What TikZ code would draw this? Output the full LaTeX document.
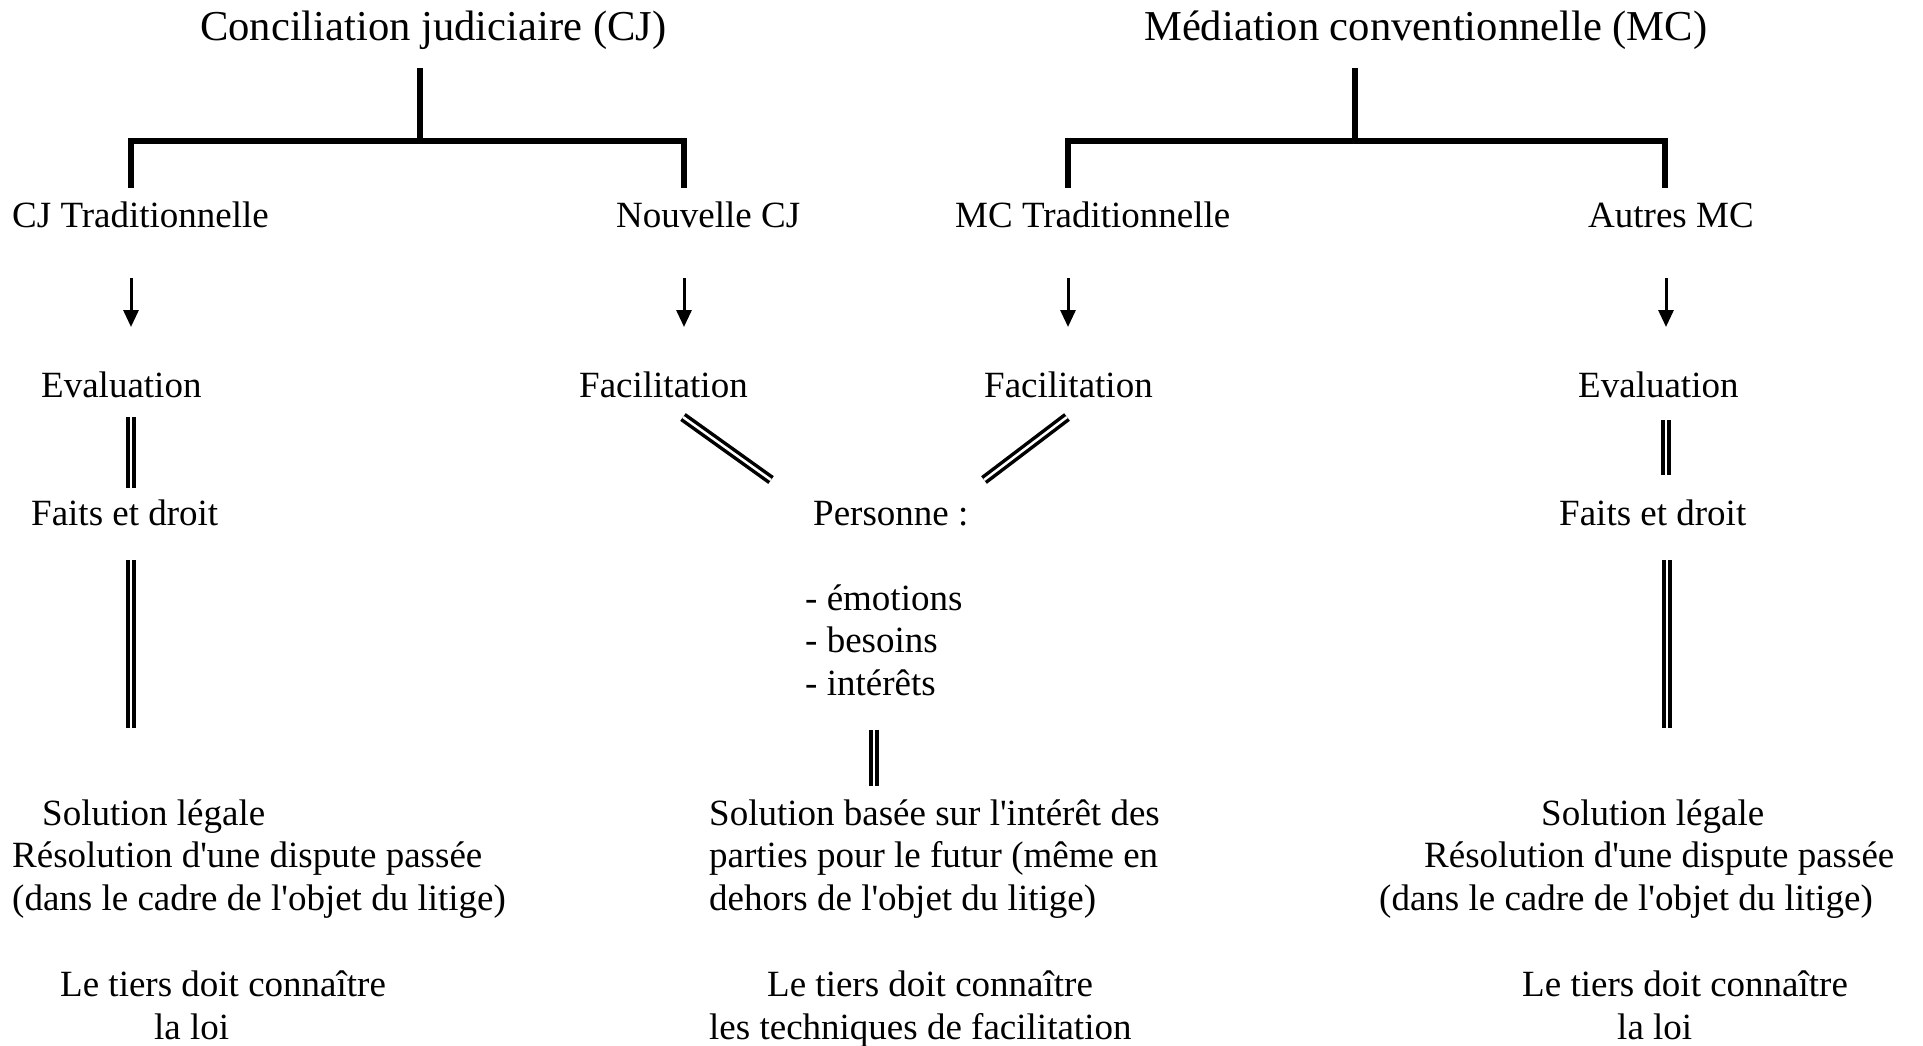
\documentclass[tikz,border=0pt]{standalone}
\usepackage{fontspec}
\setmainfont{Liberation Serif}[Ligatures=TeXOff]
\usetikzlibrary{arrows.meta}
\begin{document}
\begin{tikzpicture}[x=1pt,y=-1pt,
  txt/.style={anchor=base west,inner sep=0pt,font=\fontsize{37}{42}\selectfont},
  head/.style={anchor=base west,inner sep=0pt,font=\fontsize{42.6}{50}\selectfont},
  tree/.style={line width=6pt,line join=miter},
  down/.style={line width=3pt,-{Triangle[width=15pt,length=17pt]}},
  twin/.style={line width=3.5pt,double=white,double distance=2.5pt},
]
\useasboundingbox[fill=white] (0,0) rectangle (1923,1046);

% headings
\node[head] (cj) at (200,41) {Conciliation judiciaire (CJ)};
\node[head] (mc) at (1144,41) {Médiation conventionnelle (MC)};

% second level
\node[txt] (cjt) at (12,227) {CJ Traditionnelle};
\node[txt] (ncj) at (616,227) {Nouvelle CJ};
\node[txt] (mct) at (955,227) {MC Traditionnelle};
\node[txt] (amc) at (1588,227) {Autres MC};

% approach
\node[txt] (ev1) at (41,397) {Evaluation};
\node[txt] (fa1) at (579,397) {Facilitation};
\node[txt] (fa2) at (984,397) {Facilitation};
\node[txt] (ev2) at (1578,397) {Evaluation};

% focus
\node[txt] (fd1) at (31,525) {Faits et droit};
\node[txt] (pers) at (813,525) {Personne :};
\node[txt] (fd2) at (1559,525) {Faits et droit};

\node[txt] (em) at (805,610) {- émotions};
\node[txt] (be) at (805,652) {- besoins};
\node[txt] (in) at (805,695) {- intérêts};

% outcomes, left column
\node[txt] (sl1) at (42,825) {Solution légale};
\node[txt] (rd1) at (12,867) {Résolution d'une dispute passée};
\node[txt] (cd1) at (12,910) {(dans le cadre de l'objet du litige)};
\node[txt] (lt1) at (60,996) {Le tiers doit connaître};
\node[txt] (ll1) at (154,1039) {la loi};

% outcomes, middle column
\node[txt] (sb) at (709,825) {Solution basée sur l'intérêt des};
\node[txt] (pp) at (709,867) {parties pour le futur (même en};
\node[txt] (dh) at (709,910) {dehors de l'objet du litige)};
\node[txt] (lt2) at (767,996) {Le tiers doit connaître};
\node[txt] (tf) at (709,1039) {les techniques de facilitation};

% outcomes, right column
\node[txt] (sl2) at (1541,825) {Solution légale};
\node[txt] (rd2) at (1424,867) {Résolution d'une dispute passée};
\node[txt] (cd2) at (1379,910) {(dans le cadre de l'objet du litige)};
\node[txt] (lt3) at (1522,996) {Le tiers doit connaître};
\node[txt] (ll3) at (1617,1039) {la loi};

% connector ends
\coordinate (cjtop) at (420,68);
\coordinate (cjmid) at (420,141);
\coordinate (cjl) at (131,188);
\coordinate (cjr) at (684,188);
\coordinate (mctop) at (1355,68);
\coordinate (mcmid) at (1355,141);
\coordinate (mcl) at (1068,188);
\coordinate (mcr) at (1665,188);

\coordinate (a1s) at (131,278);  \coordinate (a1e) at (131,327);
\coordinate (a2s) at (684,278);  \coordinate (a2e) at (684,327);
\coordinate (a3s) at (1068,278); \coordinate (a3e) at (1068,327);
\coordinate (a4s) at (1666,278); \coordinate (a4e) at (1666,327);

\coordinate (d1s) at (131,417);  \coordinate (d1e) at (131,488);
\coordinate (d2s) at (1666,420); \coordinate (d2e) at (1666,475);
\coordinate (d3s) at (131,560);  \coordinate (d3e) at (131,728);
\coordinate (d4s) at (1667,560); \coordinate (d4e) at (1667,728);
\coordinate (d5s) at (874,730);  \coordinate (d5e) at (874,786);
\coordinate (g1s) at (683,417);  \coordinate (g1e) at (771,480);
\coordinate (g2s) at (1067,417); \coordinate (g2e) at (984,480);

% trees
\draw[tree] (cjtop) -- (cjmid);
\draw[tree] (cjl) |- (cjr |- cjmid) -- (cjr);
\draw[tree] (mctop) -- (mcmid);
\draw[tree] (mcl) |- (mcr |- mcmid) -- (mcr);

% arrows
\draw[down] (a1s) -- (a1e);
\draw[down] (a2s) -- (a2e);
\draw[down] (a3s) -- (a3e);
\draw[down] (a4s) -- (a4e);

% double links
\draw[twin] (d1s) -- (d1e);
\draw[twin] (d2s) -- (d2e);
\draw[twin] (d3s) -- (d3e);
\draw[twin] (d4s) -- (d4e);
\draw[twin] (d5s) -- (d5e);
\draw[twin] (g1s) -- (g1e);
\draw[twin] (g2s) -- (g2e);
\end{tikzpicture}
\end{document}
